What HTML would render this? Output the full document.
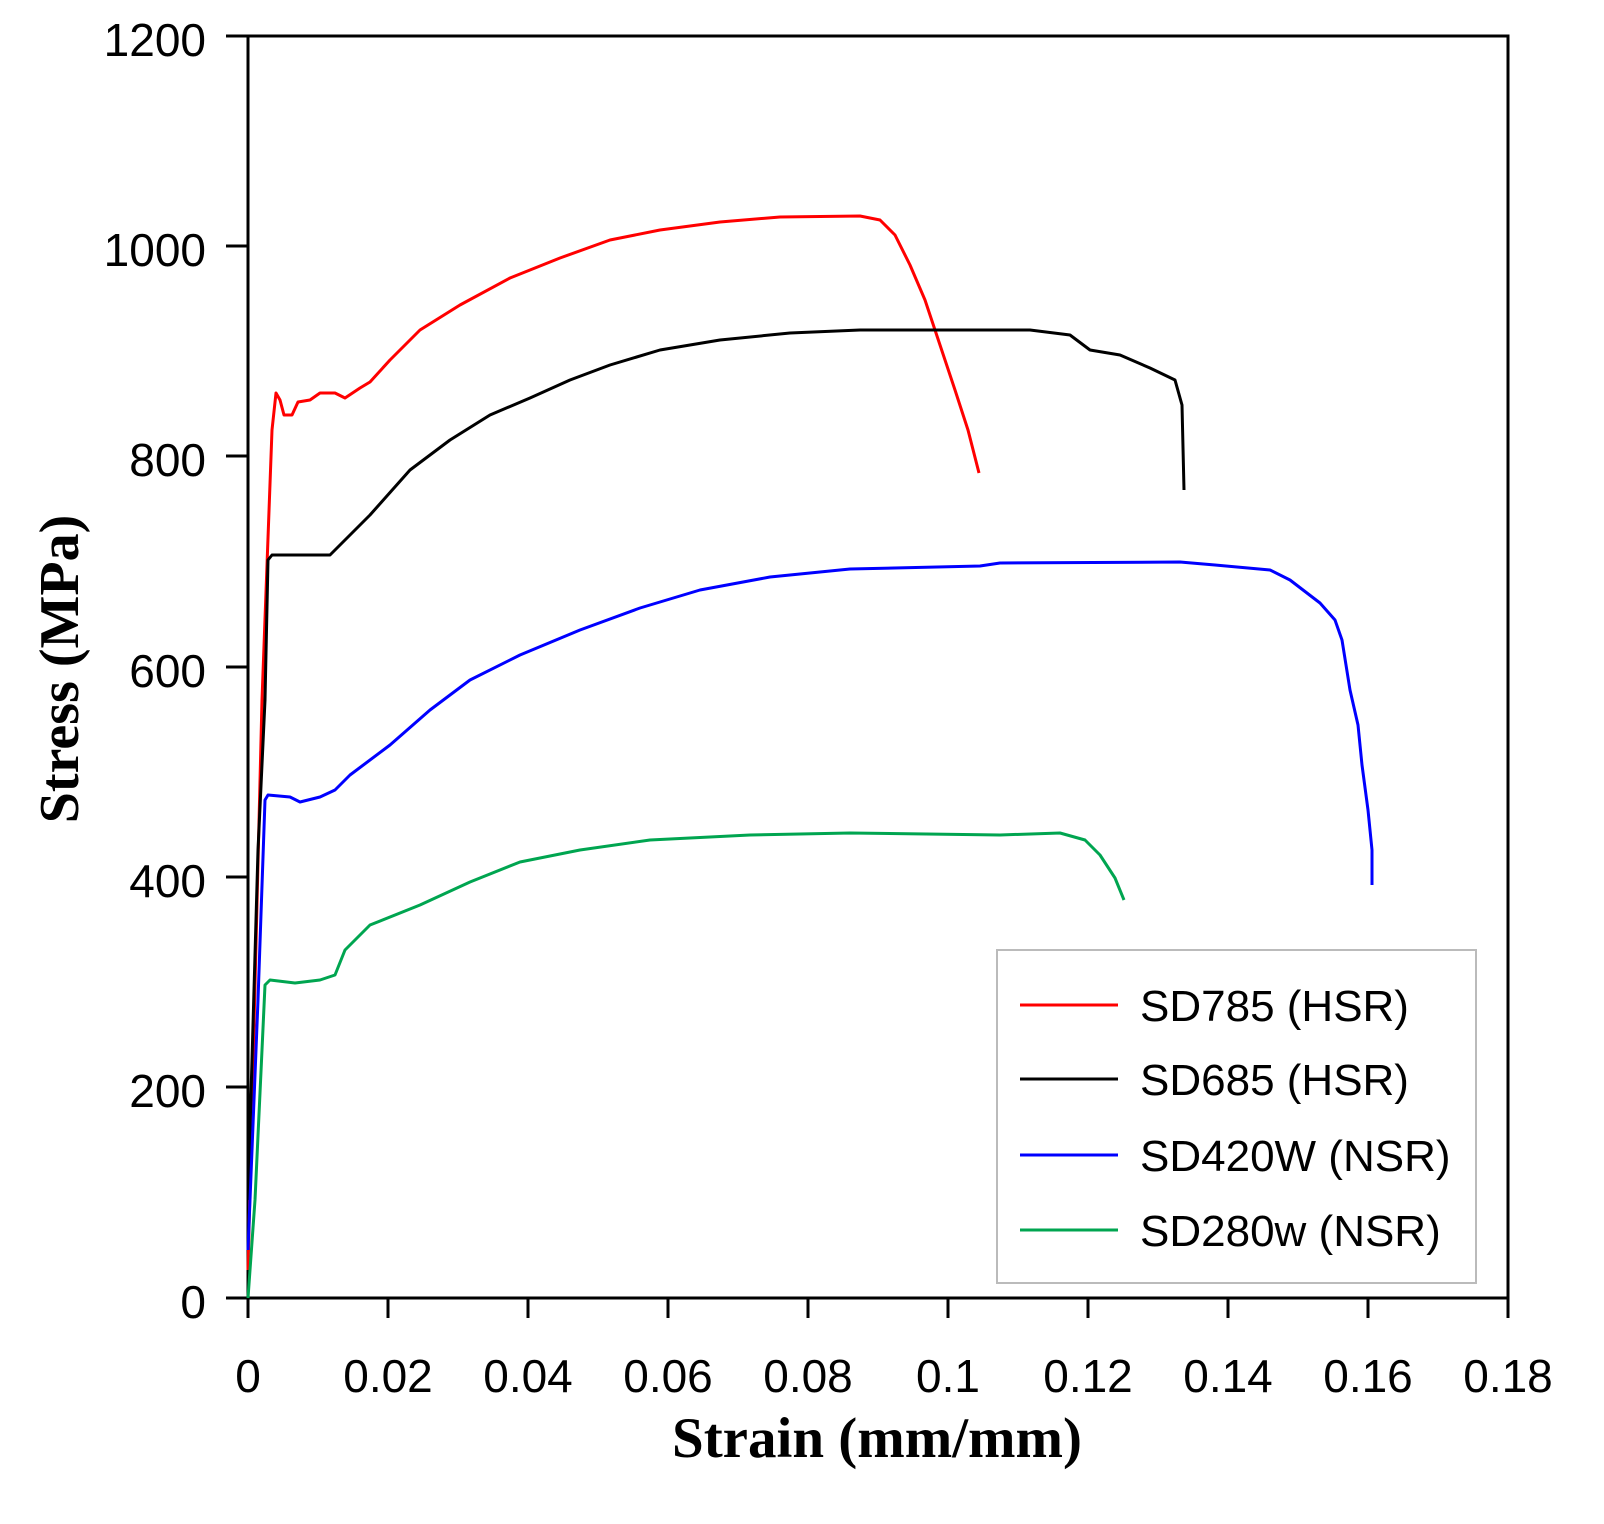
<!DOCTYPE html>
<html><head><meta charset="utf-8"><style>body{margin:0;background:#fff}</style></head><body>
<svg width="1604" height="1519" xmlns="http://www.w3.org/2000/svg">
<rect width="1604" height="1519" fill="#fff"/>
<g stroke="#000" stroke-width="3" fill="none">
<rect x="248" y="36" width="1260" height="1262"/>
<path d="M226 36H248M226 246H248M226 456H248M226 667H248M226 877H248M226 1087H248M226 1298H248"/>
<path d="M248 1298V1318M388 1298V1318M528 1298V1318M668 1298V1318M808 1298V1318M948 1298V1318M1088 1298V1318M1228 1298V1318M1368 1298V1318M1508 1298V1318"/>
</g>
<g font-family="Liberation Sans, sans-serif" font-size="46" fill="#000" text-anchor="end">
<text x="206" y="56">1200</text><text x="206" y="266">1000</text><text x="206" y="476">800</text><text x="206" y="687">600</text><text x="206" y="897">400</text><text x="206" y="1107">200</text><text x="206" y="1318">0</text>
</g>
<g font-family="Liberation Sans, sans-serif" font-size="46" fill="#000" text-anchor="middle">
<text x="248" y="1392">0</text><text x="388" y="1392">0.02</text><text x="528" y="1392">0.04</text><text x="668" y="1392">0.06</text><text x="808" y="1392">0.08</text><text x="948" y="1392">0.1</text><text x="1088" y="1392">0.12</text><text x="1228" y="1392">0.14</text><text x="1368" y="1392">0.16</text><text x="1508" y="1392">0.18</text>
</g>
<text x="877" y="1457" font-family="Liberation Serif, serif" font-weight="bold" font-size="57" text-anchor="middle">Strain (mm/mm)</text>
<text transform="translate(78,669) rotate(-90)" font-family="Liberation Serif, serif" font-weight="bold" font-size="56" text-anchor="middle">Stress (MPa)</text>
<g fill="none" stroke-width="3" stroke-linejoin="round">
<polyline stroke="#ff0000" points="248,1270 262,700 272,430 276,393 280,400 284,415 292,415 298,402 310,400 320,393 335,393 345,398 360,388 370,382 390,360 420,330 460,305 510,278 560,258 610,240 660,230 720,222 780,217 860,216 880,220 895,235 910,265 925,300 940,345 955,390 968,430 979,473"/>
<polyline stroke="#000" points="248,1200 258,850 265,700 268,560 272,555 330,555 340,545 370,515 410,470 450,440 490,415 530,398 570,380 610,365 660,350 720,340 790,333 860,330 1030,330 1070,335 1090,350 1120,355 1150,368 1175,380 1182,405 1184,490"/>
<polyline stroke="#0000ff" points="248,1250 258,1000 265,800 268,795 290,797 300,802 320,797 335,790 350,775 390,745 430,710 470,680 520,655 580,630 640,608 700,590 770,577 850,569 980,566 1000,563 1180,562 1215,565 1270,570 1290,580 1320,603 1335,620 1342,640 1350,690 1358,725 1362,765 1368,810 1372,850 1372,885"/>
<polyline stroke="#00a550" points="248,1298 255,1200 262,1050 265,985 270,980 295,983 320,980 335,975 345,950 370,925 420,905 470,882 520,862 580,850 650,840 750,835 850,833 1000,835 1060,833 1085,840 1100,855 1115,878 1124,900"/>
</g>
<rect x="997" y="950" width="479" height="333" fill="#fff" stroke="#bbb" stroke-width="2"/>
<g stroke-width="3">
<line x1="1020" y1="1005" x2="1118" y2="1005" stroke="#ff0000"/>
<line x1="1020" y1="1079" x2="1118" y2="1079" stroke="#000"/>
<line x1="1020" y1="1155" x2="1118" y2="1155" stroke="#0000ff"/>
<line x1="1020" y1="1230" x2="1118" y2="1230" stroke="#00a550"/>
</g>
<g font-family="Liberation Sans, sans-serif" font-size="44" fill="#000">
<text x="1140" y="1021">SD785 (HSR)</text><text x="1140" y="1095">SD685 (HSR)</text><text x="1140" y="1171">SD420W (NSR)</text><text x="1140" y="1246">SD280w (NSR)</text>
</g>
</svg>
</body></html>
